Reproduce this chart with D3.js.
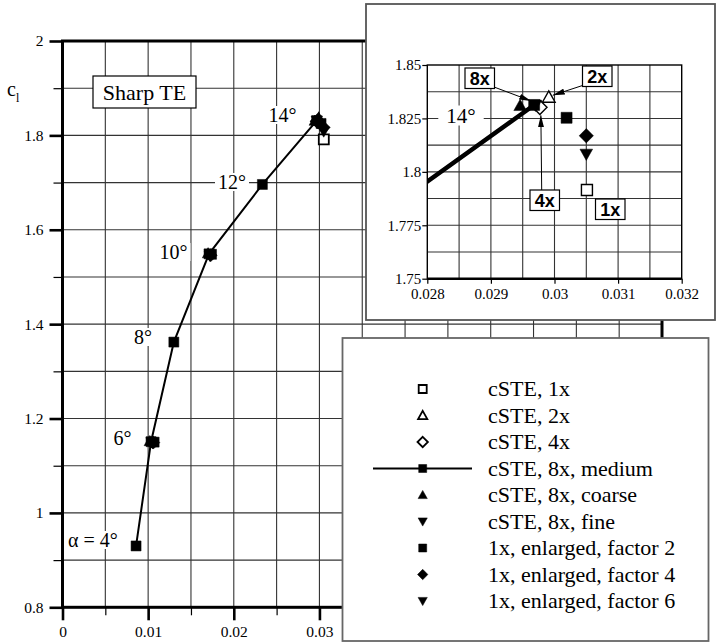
<!DOCTYPE html>
<html>
<head>
<meta charset="utf-8">
<script src="https://cdn.jsdelivr.net/npm/d3@7"></script>
<style>
  html, body { margin: 0; padding: 0; background: #fff; }
  svg { display: block; }
  text { font-family: "Liberation Serif", "Times New Roman", serif; fill: #000; }
  text.sans { font-family: "Liberation Sans", Arial, sans-serif; }
</style>
</head>
<body>
<svg id="chart" width="717" height="642"></svg>
<script>
// ---- data: drag coefficient (cd) and lift coefficient (cl) ----
const alphaDeg = [4, 6, 8, 10, 12, 14];

// cSTE, 8x, medium grid: full polar
const mediumCd = [0.00859, 0.01034, 0.0130, 0.01711, 0.02334, 0.02968];
const mediumCl = [0.930, 1.151, 1.362, 1.549, 1.696, 1.8313];

// runs at alpha = 6°, 10°, 14°
const coarseCd  = [0.0102, 0.0170, 0.02946];
const coarseCl  = [1.152, 1.550, 1.8310];
const fineCd    = [0.0104, 0.0172, 0.0297];
const fineCl    = [1.150, 1.548, 1.8312];
const factor2Cd = [0.0107, 0.0174, 0.03019];
const factor2Cl = [1.150, 1.548, 1.8253];
const factor4Cd = [0.0106, 0.0173, 0.0305];
const factor4Cl = [1.149, 1.546, 1.8169];
const factor6Cd = [0.0105, 0.0172, 0.0305];
const factor6Cl = [1.148, 1.545, 1.8083];

// runs at alpha = 14° only
const cste1xCd = [0.03051];
const cste1xCl = [1.7915];
const cste2xCd = [0.02991];
const cste2xCl = [1.8349];
const cste4xCd = [0.02977];
const cste4xCl = [1.8302];

const mainXTicks  = [0, 0.01, 0.02, 0.03, 0.04, 0.05, 0.06, 0.07];
const mainYTicks  = [0.8, 1, 1.2, 1.4, 1.6, 1.8, 2];
const insetXTicks = [0.028, 0.029, 0.03, 0.031, 0.032];
const insetYTicks = [1.75, 1.775, 1.8, 1.825, 1.85];

// ---- series styling ----
const series = [
  { label: "cSTE, 1x",                cd: cste1xCd,  cl: cste1xCl,  shape: "square",  filled: false },
  { label: "cSTE, 2x",                cd: cste2xCd,  cl: cste2xCl,  shape: "up",      filled: false },
  { label: "cSTE, 4x",                cd: cste4xCd,  cl: cste4xCl,  shape: "diamond", filled: false },
  { label: "cSTE, 8x, medium",        cd: mediumCd,  cl: mediumCl,  shape: "square",  filled: true, line: true },
  { label: "cSTE, 8x, coarse",        cd: coarseCd,  cl: coarseCl,  shape: "up",      filled: true },
  { label: "cSTE, 8x, fine",          cd: fineCd,    cl: fineCl,    shape: "down",    filled: true },
  { label: "1x, enlarged, factor 2",  cd: factor2Cd, cl: factor2Cl, shape: "square",  filled: true },
  { label: "1x, enlarged, factor 4",  cd: factor4Cd, cl: factor4Cl, shape: "diamond", filled: true },
  { label: "1x, enlarged, factor 6",  cd: factor6Cd, cl: factor6Cl, shape: "down",    filled: true }
];
// draw the medium polar last so its squares sit on top
const drawOrder = [0, 1, 2, 4, 5, 6, 7, 8, 3];

const SERIF = '"Liberation Serif", "Times New Roman", serif';

function shapePath(shape, s) {
  switch (shape) {
    case "square":  return `M${-s},${-s}H${s}V${s}H${-s}Z`;
    case "diamond": { const d = s * 1.3; return `M0,${-d}L${d},0L0,${d}L${-d},0Z`; }
    case "up":      return `M0,${-s * 1.15}L${s * 1.15},${s * 0.9}L${-s * 1.15},${s * 0.9}Z`;
    case "down":    return `M0,${s * 1.15}L${s * 1.15},${-s * 0.9}L${-s * 1.15},${-s * 0.9}Z`;
  }
}
function drawMarker(g, shape, filled, cx, cy, s, sw) {
  g.append("path")
    .attr("d", shapePath(shape, s))
    .attr("transform", `translate(${cx},${cy})`)
    .attr("fill", filled ? "#000" : "#fff")
    .attr("stroke", "#000")
    .attr("stroke-width", filled ? 0.5 : sw)
    .attr("stroke-linejoin", "miter");
}
const fmt = d => String(+d.toFixed(4));
const styleTicks = size => g => g.selectAll("text")
  .style("font-family", SERIF).style("font-size", size + "px").style("fill", "#000");

const svg = d3.select("#chart");
const defs = svg.append("defs");

// ================= main polar =================
const x = d3.scaleLinear().domain([0, 0.07]).range([62.5, 662]);
const y = d3.scaleLinear().domain([0.8, 2.0]).range([607.3, 41]);

const main = svg.append("g");

// grid
const gridX = d3.range(1, 14).map(i => i * 0.005);
const gridY = d3.range(1, 12).map(i => 0.8 + i * 0.1);
main.append("g").selectAll("line").data(gridX).join("line")
  .attr("x1", d => x(d)).attr("x2", d => x(d))
  .attr("y1", y(2)).attr("y2", y(0.8))
  .attr("stroke", "#333").attr("stroke-width", 1.1);
main.append("g").selectAll("line").data(gridY).join("line")
  .attr("x1", x(0)).attr("x2", x(0.07))
  .attr("y1", d => y(d)).attr("y2", d => y(d))
  .attr("stroke", "#333").attr("stroke-width", 1.1);

// minor ticks
main.append("g").attr("transform", `translate(0,${y(0.8)})`)
  .call(d3.axisBottom(x).tickValues(d3.range(0, 7).map(i => 0.005 + i * 0.01)).tickSize(8).tickFormat(""))
  .call(g => g.select(".domain").remove())
  .call(g => g.selectAll("line").attr("stroke", "#000").attr("stroke-width", 1.2));
main.append("g").attr("transform", `translate(${x(0)},0)`)
  .call(d3.axisLeft(y).tickValues(d3.range(0, 6).map(i => 0.9 + i * 0.2)).tickSize(9).tickFormat(""))
  .call(g => g.select(".domain").remove())
  .call(g => g.selectAll("line").attr("stroke", "#000").attr("stroke-width", 1.2));

// major ticks with labels
main.append("g").attr("transform", `translate(0,${y(0.8)})`)
  .call(d3.axisBottom(x).tickValues(mainXTicks).tickSize(13).tickPadding(6).tickFormat(fmt))
  .call(g => g.select(".domain").remove())
  .call(g => g.selectAll("line").attr("stroke", "#000").attr("stroke-width", 2.6))
  .call(styleTicks(15.5));
main.append("g").attr("transform", `translate(${x(0)},0)`)
  .call(d3.axisLeft(y).tickValues(mainYTicks).tickSize(13).tickPadding(6).tickFormat(fmt))
  .call(g => g.select(".domain").remove())
  .call(g => g.selectAll("line").attr("stroke", "#000").attr("stroke-width", 2.6))
  .call(styleTicks(15.5));

// frame
main.append("rect")
  .attr("x", x(0)).attr("y", y(2))
  .attr("width", x(0.07) - x(0)).attr("height", y(0.8) - y(2))
  .attr("fill", "none").attr("stroke", "#000").attr("stroke-width", 3);

// axis title c_l
const cl = main.append("text").attr("x", 7).attr("y", 96).style("font-size", "20px");
cl.append("tspan").text("c");
cl.append("tspan").style("font-size", "12px").attr("dy", 6).text("l");

// "Sharp TE" tag
const tag = main.append("g");
tag.append("rect").attr("x", 93).attr("y", 76).attr("width", 103).attr("height", 32)
  .attr("fill", "#fff").attr("stroke", "#000").attr("stroke-width", 1.2);
tag.append("text").attr("x", 144.5).attr("y", 100).attr("text-anchor", "middle")
  .style("font-size", "22px").text("Sharp TE");

// polar line
const lineGen = d3.line().x(d => x(d[0])).y(d => y(d[1]));
main.append("path")
  .datum(mediumCd.map((d, i) => [d, mediumCl[i]]))
  .attr("d", lineGen).attr("fill", "none").attr("stroke", "#000").attr("stroke-width", 2);

// markers
drawOrder.forEach(si => {
  const s = series[si];
  s.cd.forEach((d, i) => drawMarker(main, s.shape, s.filled, x(d), y(s.cl[i]), 5, 1.8));
});

// angle labels (centre position of each label)
const angleLabelPos = [[93, 540], [122.5, 438], [143, 337], [173.5, 252], [232, 182], [282.5, 115]];
alphaDeg.forEach((a, i) => {
  const [cx, cy] = angleLabelPos[i];
  const g = main.append("g");
  const t = g.append("text").attr("x", cx).attr("y", cy + 7).attr("text-anchor", "middle")
    .style("font-size", "20px").text((i === 0 ? "\u03b1 = " : "") + a + "\u00b0");
  const bb = t.node().getBBox();
  g.insert("rect", "text").attr("x", bb.x - 3).attr("y", bb.y + 2)
    .attr("width", bb.width + 6).attr("height", bb.height - 4).attr("fill", "#fff");
});

// ================= inset: zoom on alpha = 14° =================
const inset = svg.append("g");
inset.append("rect").attr("x", 366).attr("y", 4).attr("width", 349).attr("height", 316)
  .attr("fill", "#fff").attr("stroke", "#555").attr("stroke-width", 1.8);

const ix = d3.scaleLinear().domain([0.028, 0.032]).range([427.3, 681.7]);
const iy = d3.scaleLinear().domain([1.75, 1.85]).range([278.7, 65]);

const igx = d3.range(1, 8).map(i => 0.028 + i * 0.0005);
const igy = d3.range(1, 8).map(i => 1.75 + i * 0.0125);
inset.append("g").selectAll("line").data(igx).join("line")
  .attr("x1", d => ix(d)).attr("x2", d => ix(d)).attr("y1", iy(1.85)).attr("y2", iy(1.75))
  .attr("stroke", "#333").attr("stroke-width", 1.1);
inset.append("g").selectAll("line").data(igy).join("line")
  .attr("x1", ix(0.028)).attr("x2", ix(0.032)).attr("y1", d => iy(d)).attr("y2", d => iy(d))
  .attr("stroke", "#333").attr("stroke-width", 1.1);

inset.append("g").attr("transform", `translate(0,${iy(1.75)})`)
  .call(d3.axisBottom(ix).tickValues(insetXTicks).tickSize(5).tickPadding(5).tickFormat(fmt))
  .call(g => g.select(".domain").remove())
  .call(g => g.selectAll("line").attr("stroke", "#000").attr("stroke-width", 1.2))
  .call(styleTicks(15));
inset.append("g").attr("transform", `translate(${ix(0.028)},0)`)
  .call(d3.axisLeft(iy).tickValues(insetYTicks).tickSize(5).tickPadding(1).tickFormat(fmt))
  .call(g => g.select(".domain").remove())
  .call(g => g.selectAll("line").attr("stroke", "#000").attr("stroke-width", 1.2))
  .call(styleTicks(15));

inset.append("rect").attr("x", ix(0.028)).attr("y", iy(1.85))
  .attr("width", ix(0.032) - ix(0.028)).attr("height", iy(1.75) - iy(1.85))
  .attr("fill", "none").attr("stroke", "#000").attr("stroke-width", 1.4);
inset.append("line").attr("x1", ix(0.028)).attr("x2", ix(0.032))
  .attr("y1", iy(1.75)).attr("y2", iy(1.75)).attr("stroke", "#000").attr("stroke-width", 2.4);

defs.append("clipPath").attr("id", "insetClip").append("rect")
  .attr("x", ix(0.028)).attr("y", iy(1.85))
  .attr("width", ix(0.032) - ix(0.028)).attr("height", iy(1.75) - iy(1.85));

const iline = d3.line().x(d => ix(d[0])).y(d => iy(d[1]));
inset.append("path")
  .datum(mediumCd.map((d, i) => [d, mediumCl[i]]))
  .attr("d", iline).attr("clip-path", "url(#insetClip)")
  .attr("fill", "none").attr("stroke", "#000").attr("stroke-width", 4.5);

// inset angle label
{
  const g = inset.append("g");
  const t = g.append("text").attr("x", 461).attr("y", 122.5).attr("text-anchor", "middle")
    .style("font-size", "21px").text(alphaDeg[5] + "\u00b0");
  const bb = t.node().getBBox();
  g.insert("rect", "text").attr("x", bb.x - 8).attr("y", bb.y + 2)
    .attr("width", bb.width + 16).attr("height", bb.height - 4).attr("fill", "#fff");
}

drawOrder.forEach(si => {
  const s = series[si];
  s.cd.forEach((d, i) => {
    if (d >= 0.028) drawMarker(inset, s.shape, s.filled, ix(d), iy(s.cl[i]), 5.5, 1.4);
  });
});

// resolution callouts
defs.append("marker").attr("id", "arrowHead")
  .attr("viewBox", "0 0 12 6").attr("refX", 12).attr("refY", 3)
  .attr("markerWidth", 12).attr("markerHeight", 6).attr("markerUnits", "userSpaceOnUse")
  .attr("orient", "auto")
  .append("path").attr("d", "M0,0L12,3L0,6Z").attr("fill", "#000");

// label, box corner, series pointed at, arrow start, tip offset from the point
const callouts = [
  { text: "8x", bx: 465, by: 68, si: 3, from: [494, 87], tip: [-3, -4] },
  { text: "2x", bx: 582.5, by: 66, si: 1, from: [584, 85], tip: [4, -2] },
  { text: "4x", bx: 530, by: 190, si: 2, from: [541.7, 190], tip: [1, 8] },
  { text: "1x", bx: 595.5, by: 199, si: null }
];
callouts.forEach(c => {
  if (c.si !== null) {
    const s = series[c.si];
    const n = s.cd.length - 1;
    inset.append("line")
      .attr("x1", c.from[0]).attr("y1", c.from[1])
      .attr("x2", ix(s.cd[n]) + c.tip[0]).attr("y2", iy(s.cl[n]) + c.tip[1])
      .attr("stroke", "#000").attr("stroke-width", 1)
      .attr("marker-end", "url(#arrowHead)");
  }
  inset.append("rect").attr("x", c.bx).attr("y", c.by).attr("width", 29.5).attr("height", 20.5)
    .attr("fill", "#fff").attr("stroke", "#000").attr("stroke-width", 1.2);
  inset.append("text").attr("class", "sans").attr("x", c.bx + 14.75).attr("y", c.by + 16.5)
    .attr("text-anchor", "middle").style("font-weight", "bold")
    .style("font-size", "18px").text(c.text);
});

// ================= legend =================
const legend = svg.append("g");
legend.append("rect").attr("x", 342.5).attr("y", 338).attr("width", 366).attr("height", 303)
  .attr("fill", "#fff").attr("stroke", "#666").attr("stroke-width", 1.8);
series.forEach((s, i) => {
  const ry = 389 + i * 26.5;
  if (s.line) {
    legend.append("line").attr("x1", 373).attr("x2", 472).attr("y1", ry).attr("y2", ry)
      .attr("stroke", "#000").attr("stroke-width", 2);
  }
  drawMarker(legend, s.shape, s.filled, 422.7, ry, 4, 1.8);
  legend.append("text").attr("x", 488).attr("y", ry + 7).style("font-size", "22px").text(s.label);
});
</script>
</body>
</html>
